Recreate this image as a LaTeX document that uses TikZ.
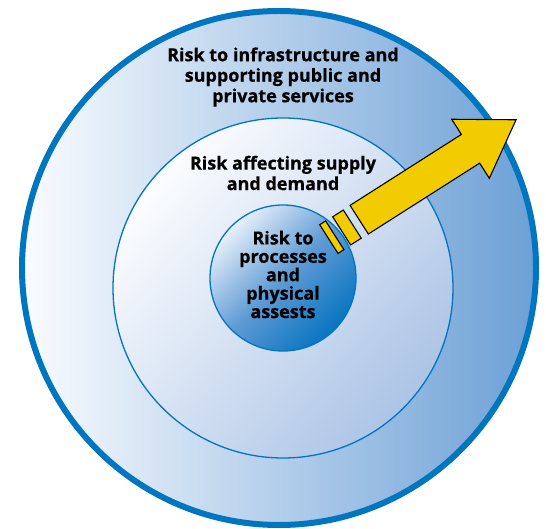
\documentclass[tikz,border=0pt]{standalone}
\usepackage{fontspec}
\setmainfont{Open Sans}[BoldFeatures={FakeBold=0.5}]
\definecolor{ringblue}{RGB}{0,118,192}
\definecolor{outerR}{RGB}{108,160,214}
\definecolor{outerL}{RGB}{250,252,255}
\definecolor{midR}{RGB}{172,196,230}
\definecolor{midL}{RGB}{252,253,255}
\definecolor{innerD}{RGB}{8,116,192}
\definecolor{innerM}{RGB}{95,155,213}
\definecolor{innerL}{RGB}{232,240,250}
\definecolor{arrowyellow}{RGB}{242,204,0}
\tikzset{
  lbl/.style={align=center, font=\fontsize{18}{20.5}\selectfont\bfseries, text=black, inner sep=0pt},
  ylw/.style={fill=arrowyellow, draw=black, line width=1.1pt, line join=miter}
}
\begin{document}
\begin{tikzpicture}[x=1pt,y=1pt]
\useasboundingbox (0,0) rectangle (546,-529);
\fill[white] (0,0) rectangle (546,-529);
% outer circle
\shade[left color=outerL, right color=outerR] (279,-268) circle (257);
\draw[ringblue, line width=6] (279,-268) circle (257);
% middle circle
\shade[top color=midL, bottom color=midR, shading angle=50] (283,-288) circle (170);
\draw[ringblue, line width=1.3] (283,-288) circle (170);
% inner circle
\shade[top color=innerL, bottom color=innerD, middle color=innerM, shading angle=45] (283,-278) circle (73);
\draw[ringblue, line width=1.3] (283,-278) circle (73);
% arrow
\begin{scope}[shift={(359.2,-219.7)}, rotate=32.5]
  \filldraw[ylw] (-36,-17) rectangle (-29,17);
  \filldraw[ylw] (-20.8,-16.7) rectangle (-8.2,16.7);
  \filldraw[ylw] (0,-17) -- (132,-17) -- (132,-35) -- (186,0) -- (132,35) -- (132,17) -- (0,17) -- cycle;
\end{scope}
% labels
\node[lbl] (outerTxt) at (283,-77) {Risk to infrastructure and\\supporting public and\\private services};
\node[lbl] (midTxt) at (283,-173) {Risk affecting supply\\and demand};
\node[lbl, font=\fontsize{18}{18.4}\selectfont\bfseries] (innerTxt) at (283,-274.5) {Risk to\\processes\\and\\physical\\assests};
\end{tikzpicture}
\end{document}
